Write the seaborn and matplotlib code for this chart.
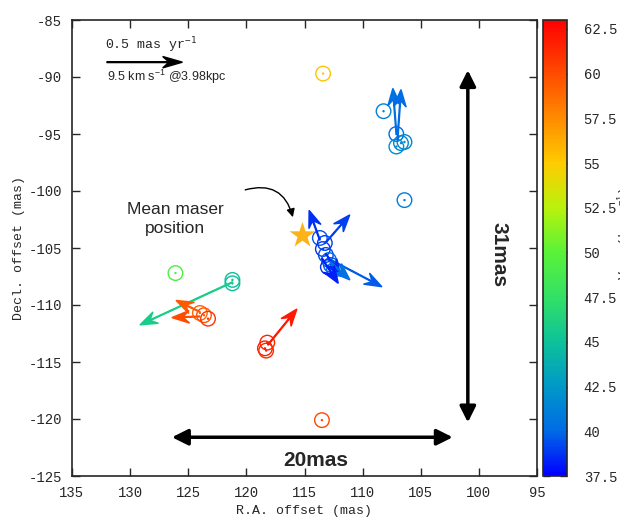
import matplotlib
matplotlib.use('Agg')
import matplotlib.pyplot as plt
import seaborn as sns
from matplotlib.colors import LinearSegmentedColormap, Normalize
from matplotlib.cm import ScalarMappable

# maser spots: R.A. offset, Decl. offset (mas), V_LSR (km/s)
spot_ra = [113.4, 108.2, 107.1, 107.1, 106.7, 106.4, 106.4,
           113.68, 113.25, 113.42, 113.16, 112.9, 112.73, 112.47, 112.99,
           126.1, 121.2, 121.2,
           124.0, 123.65, 123.3,
           118.2, 118.4, 118.3,
           113.5]
spot_dec = [-89.7, -93.0, -95.0, -96.1, -95.8, -95.7, -100.8,
            -104.12, -104.56, -105.09, -105.61, -106.05, -106.49, -106.93, -106.67,
            -107.2, -107.8, -108.1,
            -110.7, -110.9, -111.2,
            -113.3, -113.8, -114.0,
            -120.1]
spot_vlsr = [55.3, 41.2, 40.0, 41.8, 41.6, 41.4, 41.0,
             39.5, 39.0, 38.8, 39.2, 40.0, 39.6, 40.4, 38.6,
             49.3, 45.0, 44.8,
             59.0, 59.6, 61.0,
             61.6, 61.8, 61.4,
             60.2]

# proper motions (mas/yr) of spots with measured motions
arr_ra = [107.1, 107.0, 113.68, 113.16, 113.0, 113.16, 112.8, 113.5, 121.2, 124.0, 124.0, 118.15]
arr_dec = [-94.9, -95.5, -104.3, -104.5, -105.9, -105.5, -106.2, -105.9, -108.0, -110.6, -111.0, -113.5]
arr_pmx = [0.023, -0.023, 0.071, -0.158, -0.358, -0.099, -0.131, -0.108, 0.612, 0.158, 0.185, -0.192]
arr_pmy = [0.30, 0.338, 0.20, 0.185, -0.192, -0.154, -0.123, -0.169, -0.288, 0.077, -0.008, 0.242]
arr_vlsr = [40.3, 40.0, 38.6, 39.0, 39.6, 38.5, 40.3, 38.2, 45.8, 59.5, 60.0, 62.0]

star_ra = [115.2]
star_dec = [-103.9]

cbar_ticks = [37.5, 40, 42.5, 45, 47.5, 50, 52.5, 55, 57.5, 60, 62.5]
mas_per_pm = 13.0  # 0.5 mas/yr drawn as 6.5 mas

cmap = LinearSegmentedColormap.from_list('vlsr', [
    (0.0, (0.0, 0.0, 1.0)),
    (0.098, (0.0, 0.42, 0.9)),
    (0.196, (0.0, 0.6, 0.78)),
    (0.294, (0.05, 0.76, 0.6)),
    (0.392, (0.2, 0.88, 0.4)),
    (0.49, (0.35, 0.95, 0.22)),
    (0.588, (0.72, 0.95, 0.05)),
    (0.686, (1.0, 0.8, 0.0)),
    (0.784, (1.0, 0.55, 0.0)),
    (0.882, (1.0, 0.3, 0.0)),
    (1.0, (1.0, 0.0, 0.0))])
norm = Normalize(vmin=37.5, vmax=63)

sns.set_style('ticks')
plt.rcParams['font.family'] = ['Liberation Mono', 'DejaVu Sans Mono']
plt.rcParams['axes.unicode_minus'] = False
plt.rcParams['mathtext.fontset'] = 'custom'
plt.rcParams['mathtext.rm'] = 'Liberation Sans'

fig = plt.figure(figsize=(6.2, 5.18), dpi=100)
ax = fig.add_axes([72 / 620, 42 / 518, 465 / 620, 456 / 518])

# open circles for the spots
sns.scatterplot(x=spot_ra, y=spot_dec, hue=spot_vlsr, palette=cmap, hue_norm=norm,
                s=110, linewidth=1.0, legend=False, ax=ax)
coll = ax.collections[-1]
coll.set_edgecolors(coll.get_facecolors())
coll.set_facecolors('none')
sns.scatterplot(x=spot_ra, y=spot_dec, hue=spot_vlsr, palette=cmap, hue_norm=norm,
                s=3, linewidth=0, legend=False, ax=ax)

# proper motion vectors
for x0, y0, px, py, v in zip(arr_ra, arr_dec, arr_pmx, arr_pmy, arr_vlsr):
    ax.arrow(x0, y0, px * mas_per_pm, py * mas_per_pm, color=cmap(norm(v)),
             width=0.07, head_width=1.1, head_length=1.5, overhang=0.35,
             length_includes_head=True, zorder=3)

sns.scatterplot(x=star_ra, y=star_dec, marker='*', s=380, color='#fbb315',
                linewidth=0, ax=ax, zorder=4)

# scale arrow
ax.arrow(132.0, -88.7, -0.5 * mas_per_pm, 0, color='k', width=0.07, head_width=1.0,
         head_length=1.7, overhang=0.3, length_includes_head=True)
ax.text(132.2, -87.2, r'0.5 mas yr$^{\mathtt{-1}}$', fontsize=9.5, va='center', ha='left')
ax.text(132.0, -90.0, r'9.5 km s$^{-1}$ @3.98kpc', fontsize=9, va='center', ha='left',
        family='Liberation Sans')

ax.text(126.1, -102.45, 'Mean maser\nposition', fontsize=12.5, ha='center', va='center',
        family='Liberation Sans', linespacing=1.3)
ax.annotate('', xy=(116.0, -102.3), xytext=(120.1, -99.9),
            arrowprops=dict(arrowstyle='-|>', color='k', lw=1, mutation_scale=12,
                            connectionstyle='arc3,rad=-0.5', shrinkA=0, shrinkB=0))

# size bars
ax.annotate('', xy=(100.95, -120.3), xytext=(100.95, -89.4),
            arrowprops=dict(arrowstyle='<|-|>', color='k', lw=2.5, mutation_scale=24,
                            shrinkA=0, shrinkB=0))
ax.text(98.3, -105.6, '31mas', rotation=-90, fontsize=15, fontweight='bold',
        family='Liberation Sans', ha='center', va='center')
ax.annotate('', xy=(102.25, -121.6), xytext=(126.4, -121.6),
            arrowprops=dict(arrowstyle='<|-|>', color='k', lw=2.5, mutation_scale=24,
                            shrinkA=0, shrinkB=0))
ax.text(114.0, -123.6, '20mas', fontsize=15, fontweight='bold',
        family='Liberation Sans', ha='center', va='center')

ax.set_xlim(135, 95)
ax.set_ylim(-125, -85)
ax.set_xticks(range(135, 94, -5))
ax.set_yticks(range(-125, -84, 5))
ax.set_xlabel('R.A. offset (mas)', fontsize=9.5, labelpad=4)
ax.set_ylabel('Decl. offset (mas)', fontsize=9.5, labelpad=3)
ax.tick_params(direction='in', top=True, right=True, length=6, width=1,
               labelsize=10, pad=7)
for s in ax.spines.values():
    s.set_linewidth(1.2)
    s.set_visible(True)

cax = fig.add_axes([543 / 620, 42 / 518, 24 / 620, 456 / 518])
cb = fig.colorbar(ScalarMappable(norm=norm, cmap=cmap), cax=cax, ticks=cbar_ticks)
cb.ax.set_yticklabels(['%g' % t for t in cbar_ticks])
cb.ax.tick_params(direction='in', left=True, right=True, length=5, width=1,
                  labelsize=10, pad=12)
cb.outline.set_linewidth(1.2)
fig.text(0.993, 0.55, r'V$_{\rm LSR}$ (km s$^{-1}$)', rotation=90, fontsize=9.5,
         ha='left', va='center')

fig.savefig('out.png', dpi=100)
